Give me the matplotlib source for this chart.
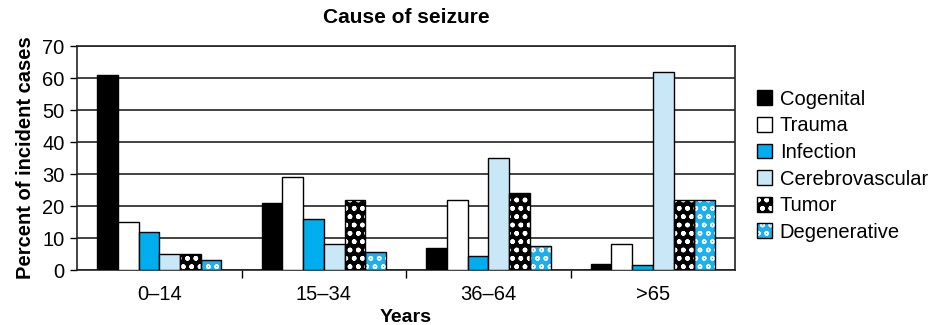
import numpy as np
import matplotlib.pyplot as plt
from matplotlib.ticker import FixedLocator

plt.rcParams['font.family'] = ['Liberation Sans', 'DejaVu Sans']

age_groups = ['0\u201314', '15\u201334', '36\u201364', '>65']
causes = ['Cogenital', 'Trauma', 'Infection', 'Cerebrovascular', 'Tumor', 'Degenerative']

cogenital = [61, 21, 7, 2]
trauma = [15, 29, 22, 8]
infection = [12, 16, 4.5, 1.5]
cerebrovascular = [5, 8, 35, 62]
tumor = [5, 22, 24, 22]
degenerative = [3, 5.5, 7.5, 22]

series = [cogenital, trauma, infection, cerebrovascular, tumor, degenerative]

# (facecolor, hatch colour, hatch)
styles = [
    ('black', None, None),
    ('white', None, None),
    ('#00aeef', None, None),
    ('#c8e8f8', None, None),
    ('black', 'white', 'oo..'),
    ('#1cb0ec', 'white', 'oo'),
]

fig = plt.figure(figsize=(9.39, 3.25), dpi=100)
ax = fig.add_axes([0.082, 0.169, 0.701, 0.689])

x = np.arange(len(age_groups))
width = 0.126
legend_handles = []
for i, (vals, (fc, hc, hatch)) in enumerate(zip(series, styles)):
    pos = x + (i - 2.5) * width
    if hatch:
        plt.rcParams['hatch.color'] = hc
        plt.rcParams['hatch.linewidth'] = 1.0
        ax.bar(pos, vals, width, color=fc, hatch=hatch, linewidth=0, zorder=3)
        ax.bar(pos, vals, width, fill=False, edgecolor='black',
               linewidth=1.0, zorder=4)
        # hatched fill with a separate black outline on top
        fill = plt.Rectangle((0, 0), 1, 1, facecolor=fc, hatch=hatch, linewidth=0)
        outline = plt.Rectangle((0, 0), 1, 1, fill=False, edgecolor='black',
                                linewidth=1.0)
        legend_handles.append((fill, outline))
    else:
        h = ax.bar(pos, vals, width, color=fc, edgecolor='black',
                   linewidth=1.0, zorder=3)
        legend_handles.append(h)

ax.set_xlim(-0.5, len(age_groups) - 0.5)
ax.set_ylim(0, 70)
ax.set_yticks(range(0, 71, 10))
ax.yaxis.grid(True, color='#222222', linewidth=1.2, zorder=0)
ax.set_axisbelow(True)

ax.set_xticks(x)
ax.set_xticklabels(age_groups)
ax.xaxis.set_minor_locator(FixedLocator([0.5, 1.5, 2.5]))
ax.tick_params(axis='x', which='major', length=0, pad=11, labelsize=14.5)
ax.tick_params(axis='x', which='minor', length=6, width=1.0, direction='out')
ax.tick_params(axis='y', length=5, width=1.0, labelsize=14.5, pad=4)

for sp in ax.spines.values():
    sp.set_linewidth(1.2)
    sp.set_color('#222222')

ax.set_xlabel('Years', fontsize=14, fontweight='bold', labelpad=3)
ax.set_ylabel('Percent of incident cases', fontsize=14.5, fontweight='bold', labelpad=5)
ax.set_title('Cause of seizure', fontsize=15, fontweight='bold', pad=17)

fig.legend(legend_handles, causes, loc='center left', bbox_to_anchor=(0.795, 0.49),
           frameon=False, fontsize=14.5, handlelength=0.75, handleheight=0.75,
           handletextpad=0.4, labelspacing=0.38, borderpad=0)

fig.savefig('out.png', dpi=100)
